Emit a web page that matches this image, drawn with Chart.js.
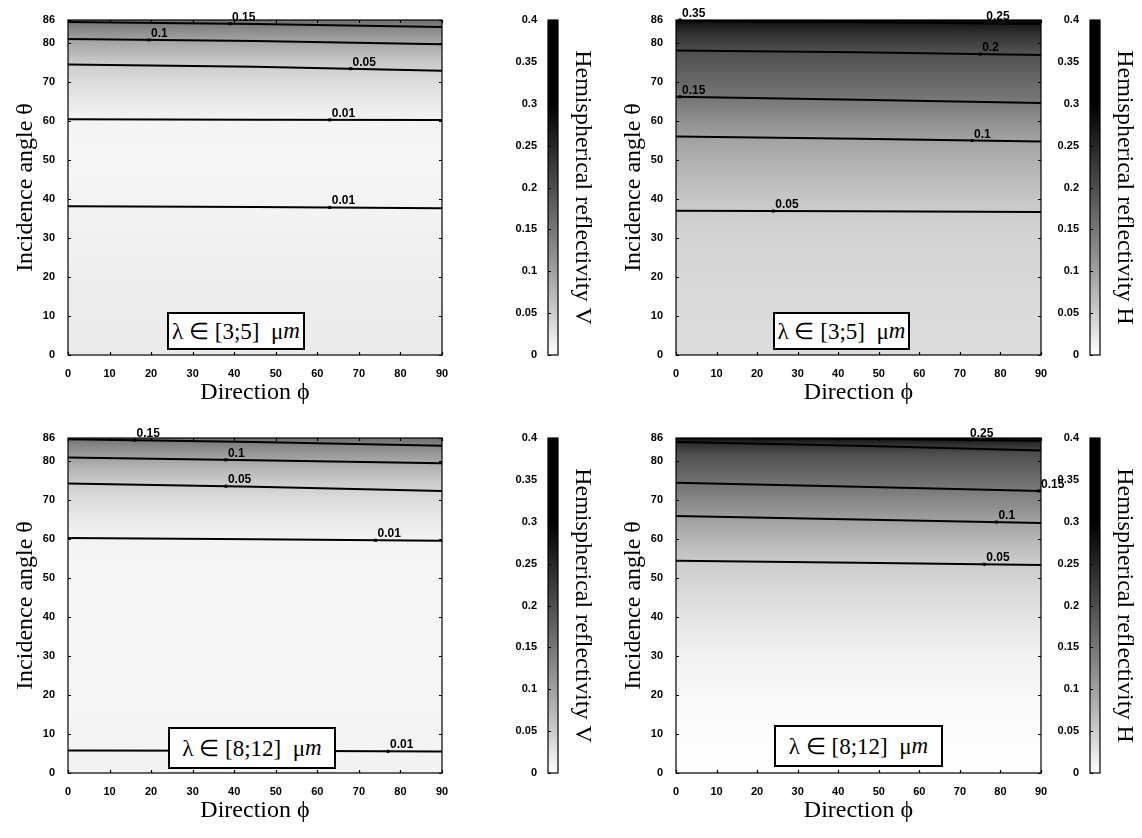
<!DOCTYPE html>
<html>
<head>
<meta charset="utf-8">
<script src="https://cdn.jsdelivr.net/npm/chart.js@4.4.1/dist/chart.umd.min.js"></script>
<style>
  body { margin: 0; background: #fff; }
  #wrap { position: relative; width: 1142px; height: 838px; overflow: hidden; }
  #wrap canvas { position: absolute; }
  .lambda {
    position: absolute; box-sizing: border-box; border: 2px solid #000; background: #fff;
    font-family: 'Liberation Serif', serif; font-size: 23px; color: #000;
    display: flex; align-items: center; justify-content: center; white-space: pre;
  }
</style>
</head>
<body>
<div id="wrap"></div>
<script>
// axes
const phiGrid = [0, 45, 90];
const phiTicks = [0, 10, 20, 30, 40, 50, 60, 70, 80, 90];
const thetaTicks = [0, 10, 20, 30, 40, 50, 60, 70, 80, 86];
const thetaMax = 86;
const cbTicks = [0, 0.05, 0.1, 0.15, 0.2, 0.25, 0.3, 0.35, 0.4];
const cbTickLabels = ['0', '0.05', '0.1', '0.15', '0.2', '0.25', '0.3', '0.35', '0.4'];
const cbMax = 0.4;
const cmapSaturation = 0.3;

// haut gauche : V, [3;5] um
const tlProfTheta = [0, 10, 20, 30, 38, 45, 50, 55, 60.5, 65, 70, 74.6, 78, 81, 83.5, 85.5, 86];
const tlProfRefl = [0.018, 0.017, 0.015, 0.012, 0.010, 0.008, 0.007, 0.008, 0.010, 0.02, 0.032, 0.05, 0.075, 0.10, 0.125, 0.15, 0.16];
const tlContours = [[85.5, 85.0, 84.2], [81.1, 80.6, 79.8], [74.6, 74.0, 73.0], [60.5, 60.4, 60.3], [38.2, 38.0, 37.7]];
const tlLabelText = ['0.15', '0.1', '0.05', '0.01', '0.01'];
const tlLabelPhi = [39, 19.5, 68, 63, 63];

// haut droite : H, [3;5] um
const trProfTheta = [0, 10, 20, 30, 37, 45, 56, 66, 72, 78, 82, 85, 86];
const trProfRefl = [0.032, 0.034, 0.037, 0.042, 0.05, 0.068, 0.10, 0.15, 0.175, 0.20, 0.23, 0.27, 0.36];
const trContours = [[86, 86, 86], [85.8, 85.5, 85.0], [78.2, 77.7, 77.0], [66.3, 65.5, 64.7], [56.1, 55.5, 54.8], [37.0, 36.9, 36.7]];
const trLabelText = ['0.35', '0.25', '0.2', '0.15', '0.1', '0.05'];
const trLabelPhi = [1, 76, 75, 1, 73, 24];

// bas gauche : V, [8;12] um
const blProfTheta = [0, 5.8, 15, 30, 45, 55, 60, 65, 70, 74.3, 78, 81, 84, 86];
const blProfRefl = [0.011, 0.010, 0.008, 0.006, 0.006, 0.008, 0.010, 0.02, 0.033, 0.05, 0.075, 0.10, 0.13, 0.16];
const blContours = [[85.7, 85.0, 84.0], [81.0, 80.3, 79.5], [74.3, 73.5, 72.4], [60.3, 60.0, 59.6], [5.8, 5.7, 5.5]];
const blLabelText = ['0.15', '0.1', '0.05', '0.01', '0.01'];
const blLabelPhi = [16, 38, 38, 74, 77];

// bas droite : H, [8;12] um
const brProfTheta = [0, 10, 20, 30, 40, 48, 54, 60, 65, 70, 73.5, 78, 82, 84.5, 86];
const brProfRefl = [0.0, 0.002, 0.005, 0.012, 0.025, 0.038, 0.05, 0.075, 0.10, 0.13, 0.15, 0.175, 0.2, 0.24, 0.28];
const brContours = [[86, 85.8, 85.3], [85.0, 84.0, 82.8], [74.5, 73.5, 72.4], [66.0, 65.1, 64.2], [54.5, 54.0, 53.4]];
const brLabelText = ['0.25', null, '0.15', '0.1', '0.05'];
const brLabelPhi = [72, null, 89.5, 79, 76];

const tickFont = { family: "'Liberation Sans', Arial, sans-serif", size: 11, weight: 'bold' };
const titleFont = { family: "'Liberation Serif', serif", size: 24 };

const panels = [
  { prof: [tlProfTheta, tlProfRefl], contours: tlContours, labels: [tlLabelText, tlLabelPhi],
    box: { left: 68, right: 442, top: 20, bottom: 355 }, cb: 548, cbTitle: 'Hemispherical reflectivity V',
    lambda: { x: 167, y: 312, w: 138, h: 38, html: 'λ ∈ [3;5]  μ<i>m</i>' } },
  { prof: [trProfTheta, trProfRefl], contours: trContours, labels: [trLabelText, trLabelPhi],
    box: { left: 676, right: 1041, top: 20, bottom: 355 }, cb: 1090, cbTitle: 'Hemispherical reflectivity H',
    lambda: { x: 773, y: 312, w: 137, h: 38, html: 'λ ∈ [3;5]  μ<i>m</i>' } },
  { prof: [blProfTheta, blProfRefl], contours: blContours, labels: [blLabelText, blLabelPhi],
    box: { left: 68, right: 442, top: 438, bottom: 773 }, cb: 548, cbTitle: 'Hemispherical reflectivity V',
    lambda: { x: 168, y: 727, w: 168, h: 42, html: 'λ ∈ [8;12]  μ<i>m</i>' } },
  { prof: [brProfTheta, brProfRefl], contours: brContours, labels: [brLabelText, brLabelPhi],
    box: { left: 676, right: 1041, top: 438, bottom: 773 }, cb: 1090, cbTitle: 'Hemispherical reflectivity H',
    lambda: { x: 774, y: 725, w: 169, h: 42, html: 'λ ∈ [8;12]  μ<i>m</i>' } }
];

const wrap = document.getElementById('wrap');

function addCanvas(left, top, w, h) {
  const c = document.createElement('canvas');
  c.width = w; c.height = h;
  c.style.left = left + 'px'; c.style.top = top + 'px';
  c.style.width = w + 'px'; c.style.height = h + 'px';
  wrap.appendChild(c);
  return c;
}

// gris : 0 -> blanc, sature en noir vers 0.3
function grayFor(v) {
  const t = Math.pow(Math.max(0, Math.min(1, v / cmapSaturation)), 0.9);
  const g = Math.round(255 * (1 - t));
  return `rgb(${g},${g},${g})`;
}

// degrade vertical suivant l'axe y de la chart
function verticalFill(stopsAt, stopsVal) {
  return function(context) {
    const chart = context.chart;
    if (!chart.chartArea) return 'rgba(0,0,0,0)';
    const y = chart.scales.y;
    const p0 = y.getPixelForValue(y.min), p1 = y.getPixelForValue(y.max);
    const g = chart.ctx.createLinearGradient(0, p0, 0, p1);
    stopsAt.forEach((t, i) => {
      const off = (y.getPixelForValue(t) - p0) / (p1 - p0);
      g.addColorStop(Math.max(0, Math.min(1, off)), grayFor(stopsVal[i]));
    });
    return g;
  };
}

function interp(xs, ys, x) {
  for (let i = 0; i < xs.length - 1; i++) {
    if (x <= xs[i + 1]) return ys[i] + (ys[i + 1] - ys[i]) * (x - xs[i]) / (xs[i + 1] - xs[i]);
  }
  return ys[ys.length - 1];
}

// cadre + ticks vers l'interieur (style matlab)
function framePlugin(withX) {
  return {
    id: 'frame',
    afterDatasetsDraw(chart) {
      const { ctx, chartArea: a, scales } = chart;
      ctx.save();
      ctx.strokeStyle = '#000';
      ctx.lineWidth = 1.2;
      ctx.strokeRect(a.left, a.top, a.right - a.left, a.bottom - a.top);
      ctx.beginPath();
      scales.y.ticks.forEach(t => {
        const py = Math.round(scales.y.getPixelForValue(t.value)) + 0.5;
        ctx.moveTo(a.left, py); ctx.lineTo(a.left + 3, py);
        if (withX) { ctx.moveTo(a.right, py); ctx.lineTo(a.right - 3, py); }
      });
      if (withX) {
        scales.x.ticks.forEach(t => {
          const px = Math.round(scales.x.getPixelForValue(t.value)) + 0.5;
          ctx.moveTo(px, a.bottom); ctx.lineTo(px, a.bottom - 3);
          ctx.moveTo(px, a.top); ctx.lineTo(px, a.top + 3);
        });
      }
      ctx.stroke();
      ctx.restore();
    }
  };
}

function labelPlugin(p) {
  return {
    id: 'contourLabels',
    afterDatasetsDraw(chart) {
      const { ctx, scales: { x, y } } = chart;
      const [texts, phis] = p.labels;
      ctx.save();
      ctx.font = "bold 12px 'Liberation Sans', Arial, sans-serif";
      ctx.fillStyle = '#000';
      texts.forEach((txt, i) => {
        if (!txt) return;
        const th = interp(phiGrid, p.contours[i], phis[i]);
        const px = x.getPixelForValue(phis[i]), py = y.getPixelForValue(th);
        ctx.fillRect(px - 1.5, py - 1.5, 3, 3);
        ctx.fillText(txt, px + 2, py - 3);
      });
      ctx.restore();
    }
  };
}

function makePanel(p) {
  const b = p.box;
  const w = b.right - b.left + 68 + 40, h = b.bottom - b.top + 20 + 65;
  const canvas = addCanvas(b.left - 68, b.top - 20, w, h);

  // le fond en dessous (order plus grand = dessine avant)
  const datasets = [{
    data: phiGrid.map(ph => ({ x: ph, y: thetaMax })),
    fill: 'start',
    backgroundColor: verticalFill(p.prof[0], p.prof[1]),
    borderWidth: 0, pointRadius: 0, order: 10
  }];
  p.contours.forEach(c => {
    datasets.push({
      data: phiGrid.map((ph, i) => ({ x: ph, y: c[i] })),
      borderColor: '#000', borderWidth: 2, pointRadius: 0, fill: false, order: 0
    });
  });

  new Chart(canvas, {
    type: 'line',
    data: { datasets },
    options: {
      responsive: false,
      animation: false,
      layout: { padding: { top: 20, right: 40, left: 0, bottom: 0 } },
      plugins: { legend: { display: false }, tooltip: { enabled: false } },
      scales: {
        x: {
          type: 'linear', min: 0, max: 90,
          grid: { display: false }, border: { display: false },
          afterBuildTicks: s => { s.ticks = phiTicks.map(v => ({ value: v })); },
          afterFit: s => { s.height = 65; },
          ticks: { font: tickFont, color: '#000', padding: 4, maxRotation: 0, autoSkip: false },
          title: { display: true, text: 'Direction ϕ', font: titleFont, color: '#000', padding: { top: 0, bottom: 13 } }
        },
        y: {
          type: 'linear', min: 0, max: thetaMax,
          grid: { display: false }, border: { display: false },
          afterBuildTicks: s => { s.ticks = thetaTicks.map(v => ({ value: v })); },
          afterFit: s => { s.width = 68; },
          ticks: { font: tickFont, color: '#000', padding: 5, autoSkip: false },
          title: { display: true, text: 'Incidence angle θ', font: titleFont, color: '#000', padding: { top: 11, bottom: 0 } }
        }
      }
    },
    plugins: [framePlugin(true), labelPlugin(p)]
  });
}

function makeColorbar(p) {
  const b = p.box;
  const h = b.bottom - b.top + 20 + 65;
  const canvas = addCanvas(p.cb - 68, b.top - 20, 68 + 10 + 50, h);

  new Chart(canvas, {
    type: 'bar',
    data: {
      labels: ['cb'],
      datasets: [{
        data: [cbMax],
        backgroundColor: verticalFill(cbTicks, cbTicks),
        barPercentage: 1, categoryPercentage: 1, borderWidth: 0
      }]
    },
    options: {
      responsive: false,
      animation: false,
      layout: { padding: { top: 20, bottom: 65, left: 0, right: 0 } },
      plugins: { legend: { display: false }, tooltip: { enabled: false } },
      scales: {
        x: { display: false },
        y: {
          min: 0, max: cbMax, position: 'left',
          grid: { display: false }, border: { display: false },
          afterBuildTicks: s => { s.ticks = cbTicks.map(v => ({ value: v })); },
          afterFit: s => { s.width = 68; },
          ticks: { font: tickFont, color: '#000', padding: 3, callback: (v, i) => cbTickLabels[i] }
        },
        yr: {
          position: 'right',
          grid: { display: false }, border: { display: false },
          ticks: { display: false },
          afterFit: s => { s.width = 50; },
          title: { display: true, text: p.cbTitle, font: titleFont, color: '#000', padding: { top: 11, bottom: 0 } }
        }
      }
    },
    plugins: [framePlugin(false)]
  });
}

function makeLambdaBox(p) {
  const l = p.lambda;
  const d = document.createElement('div');
  d.className = 'lambda';
  d.style.left = l.x + 'px'; d.style.top = l.y + 'px';
  d.style.width = l.w + 'px'; d.style.height = l.h + 'px';
  d.innerHTML = l.html;
  wrap.appendChild(d);
}

panels.forEach(p => { makePanel(p); makeColorbar(p); });
panels.forEach(makeLambdaBox);
</script>
</body>
</html>
